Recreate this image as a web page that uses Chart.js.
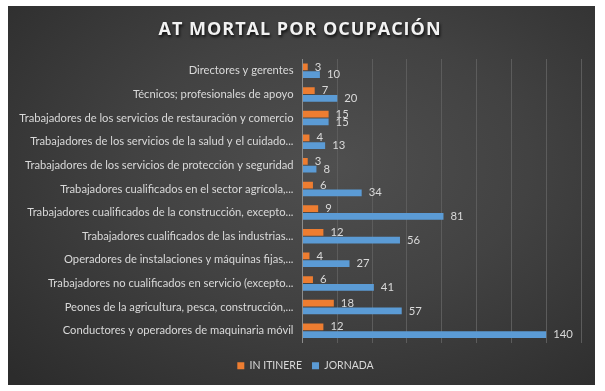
<!DOCTYPE html>
<html>
<head>
<meta charset="utf-8">
<script src="https://cdn.jsdelivr.net/npm/chart.js@4.4.1/dist/chart.umd.min.js"></script>
<style>
  html, body { margin: 0; padding: 0; background: #ffffff; }
  #wrap {
    position: absolute; left: 8px; top: 6px; width: 587px; height: 379px;
    background: radial-gradient(ellipse 75% 80% at 55% 42%, #4f4f4f 0%, #424242 45%, #2c2c2c 100%);
  }
  canvas { display: block; }
</style>
</head>
<body>
<div id="wrap"><canvas id="c" width="587" height="379"></canvas></div>
<script>
const titleText = "AT MORTAL POR OCUPACIÓN";
const categories = [
  "Directores y gerentes",
  "Técnicos; profesionales de apoyo",
  "Trabajadores de los servicios de restauración y comercio",
  "Trabajadores de los servicios de la salud y el cuidado...",
  "Trabajadores de los servicios de protección y seguridad",
  "Trabajadores cualificados en el sector agrícola,...",
  "Trabajadores cualificados de la construcción, excepto...",
  "Trabajadores cualificados de las industrias...",
  "Operadores de instalaciones y máquinas fijas,...",
  "Trabajadores no cualificados en servicio (excepto...",
  "Peones de la agricultura, pesca, construcción,...",
  "Conductores y operadores de maquinaria móvil"
];
const inItinere = [3, 7, 15, 4, 3, 6, 9, 12, 4, 6, 18, 12];
const jornada   = [10, 20, 15, 13, 8, 34, 81, 56, 27, 41, 57, 140];
const seriesNames = ["IN ITINERE", "JORNADA"];
const axisMax = 160;
const axisStep = 20;

const labelFont = "Lato, 'Open Sans', sans-serif";
const textColor = "#d9d9d9";

const titlePlugin = {
  id: "shadowTitle",
  afterDraw(chart) {
    const ctx = chart.ctx;
    ctx.save();
    ctx.font = "bold 18px 'Open Sans', sans-serif";
    try { ctx.letterSpacing = "1px"; } catch (e) {}
    ctx.textAlign = "center";
    ctx.textBaseline = "middle";
    ctx.shadowColor = "rgba(0,0,0,0.8)";
    ctx.shadowBlur = 3;
    ctx.shadowOffsetX = 1;
    ctx.shadowOffsetY = 2;
    ctx.fillStyle = "#f2f2f2";
    ctx.fillText(titleText, 292, 24);
    ctx.restore();
  }
};

const legendShift = {
  id: "legendShift",
  afterLayout(chart) {
    const lg = chart.legend;
    if (lg) { lg.left += 11; lg.right += 11; }
  }
};

const valueLabels = {
  id: "valueLabels",
  afterDatasetsDraw(chart) {
    const ctx = chart.ctx;
    ctx.save();
    ctx.font = "11.3px " + labelFont;
    ctx.fillStyle = textColor;
    ctx.textAlign = "left";
    ctx.textBaseline = "middle";
    chart.data.datasets.forEach((ds, i) => {
      const meta = chart.getDatasetMeta(i);
      meta.data.forEach((el, j) => {
        ctx.fillText(String(ds.data[j]), el.x + 7, el.y);
      });
    });
    ctx.restore();
  }
};

new Chart(document.getElementById("c"), {
  type: "bar",
  data: {
    labels: categories,
    datasets: [
      { label: seriesNames[0], data: inItinere, backgroundColor: "#ED7D31", borderWidth: 0,
        categoryPercentage: 0.66, barPercentage: 0.86 },
      { label: seriesNames[1], data: jornada, backgroundColor: "#5B9BD5", borderWidth: 0,
        categoryPercentage: 0.66, barPercentage: 0.86 }
    ]
  },
  options: {
    indexAxis: "y",
    responsive: false,
    animation: false,
    layout: { padding: { top: 53, right: 14, left: 0, bottom: 4 } },
    scales: {
      x: {
        min: 0, max: axisMax,
        ticks: { display: false, stepSize: axisStep },
        grid: { color: "#5c5c5c", lineWidth: 1, drawTicks: false },
        border: { display: false },
        afterFit(scale) { scale.height = 8; }
      },
      y: {
        ticks: { color: textColor, font: { family: labelFont, size: 11.2 }, padding: 9, autoSkip: false },
        grid: { display: false, drawTicks: false },
        border: { display: true, color: "#8c8c8c", width: 1 },
        afterFit(scale) { scale.width = 294.5; }
      }
    },
    plugins: {
      legend: {
        position: "bottom",
        labels: {
          color: textColor, font: { family: labelFont, size: 10.5 },
          boxWidth: 7, boxHeight: 7, padding: 10, useBorderRadius: false
        }
      },
      title: { display: false },
      tooltip: { enabled: false }
    }
  },
  plugins: [titlePlugin, valueLabels, legendShift]
});
</script>
</body>
</html>
